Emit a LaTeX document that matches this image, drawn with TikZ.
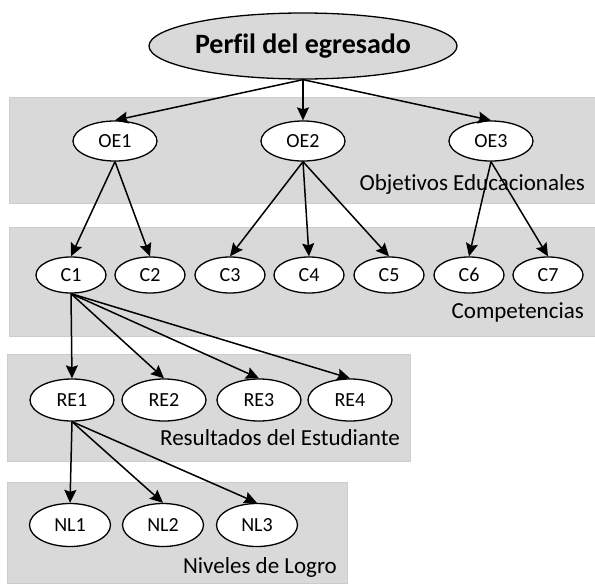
\documentclass[tikz,border=0pt]{standalone}
\usepackage{fontspec}
\setmainfont[Ligatures=NoCommon]{Carlito}
\usetikzlibrary{shapes.geometric,arrows.meta}
\definecolor{bandgray}{HTML}{D9D9D9}
\definecolor{bandedge}{HTML}{CCCCCC}
\begin{document}
\begin{tikzpicture}[x=1pt,y=-1pt,
  band/.style={fill=bandgray,draw=bandedge,line width=0.6pt},
  nd/.style={ellipse,draw=black,line width=1.3pt,fill=white,inner sep=0pt,font=\fontsize{20}{20}\selectfont},
  oe/.style={nd,minimum width=84pt,minimum height=40pt},
  cn/.style={nd,minimum width=70pt,minimum height=36pt},
  re/.style={nd,minimum width=84pt,minimum height=42pt},
  nl/.style={nd,minimum width=81pt,minimum height=43pt},
  lbl/.style={anchor=base east,inner sep=0pt,font=\fontsize{23}{23}\selectfont},
  arr/.style={line width=1.5pt,-{Stealth[length=13pt,width=12pt,inset=2pt]}}]
\useasboundingbox (0,0) rectangle (595,584);
% bands
\path[band] (9,97) rectangle (595,203);
\path[band] (9,227) rectangle (595,336);
\path[band] (7,354) rectangle (410,461);
\path[band] (7,482) rectangle (347,583);
% band labels
\node[lbl] (lobj) at (585,190) {Objetivos Educacionales};
\node[lbl] (lcomp) at (584,318) {Competencias};
\node[lbl] (lres) at (400,445) {Resultados del Estudiante};
\node[lbl] (lniv) at (337,573) {Niveles de Logro};
% top
\node[ellipse,draw=black,line width=1.3pt,fill=bandgray,minimum width=308pt,minimum height=66pt,inner sep=0pt,font=\fontsize{28}{28}\selectfont\bfseries] (top) at (303,46) {Perfil del egresado};
% OE
\node[oe] (OE1) at (115,141) {OE1};
\node[oe] (OE2) at (303,141) {OE2};
\node[oe] (OE3) at (491,141) {OE3};
% C
\node[cn] (C1) at (71,275) {C1};
\node[cn] (C2) at (150,275) {C2};
\node[cn] (C3) at (230,275) {C3};
\node[cn] (C4) at (309,275) {C4};
\node[cn] (C5) at (389,275) {C5};
\node[cn] (C6) at (469,275) {C6};
\node[cn] (C7) at (548,275) {C7};
% RE
\node[re] (RE1) at (72,400) {RE1};
\node[re] (RE2) at (164,400) {RE2};
\node[re] (RE3) at (259,400) {RE3};
\node[re] (RE4) at (350,400) {RE4};
% NL
\node[nl] (NL1) at (70,525) {NL1};
\node[nl] (NL2) at (163,525) {NL2};
\node[nl] (NL3) at (257,525) {NL3};
% arrows
\foreach \t in {OE1,OE2,OE3} \draw[arr] (top.south) -- (\t.north);
\foreach \t in {C1,C2} \draw[arr] (OE1.south) -- (\t.north);
\foreach \t in {C3,C4,C5} \draw[arr] (OE2.south) -- (\t.north);
\foreach \t in {C6,C7} \draw[arr] (OE3.south) -- (\t.north);
\foreach \t in {RE1,RE2,RE3,RE4} \draw[arr] (C1.south) -- (\t.north);
\foreach \t in {NL1,NL2,NL3} \draw[arr] (RE1.south) -- (\t.north);
\end{tikzpicture}
\end{document}
